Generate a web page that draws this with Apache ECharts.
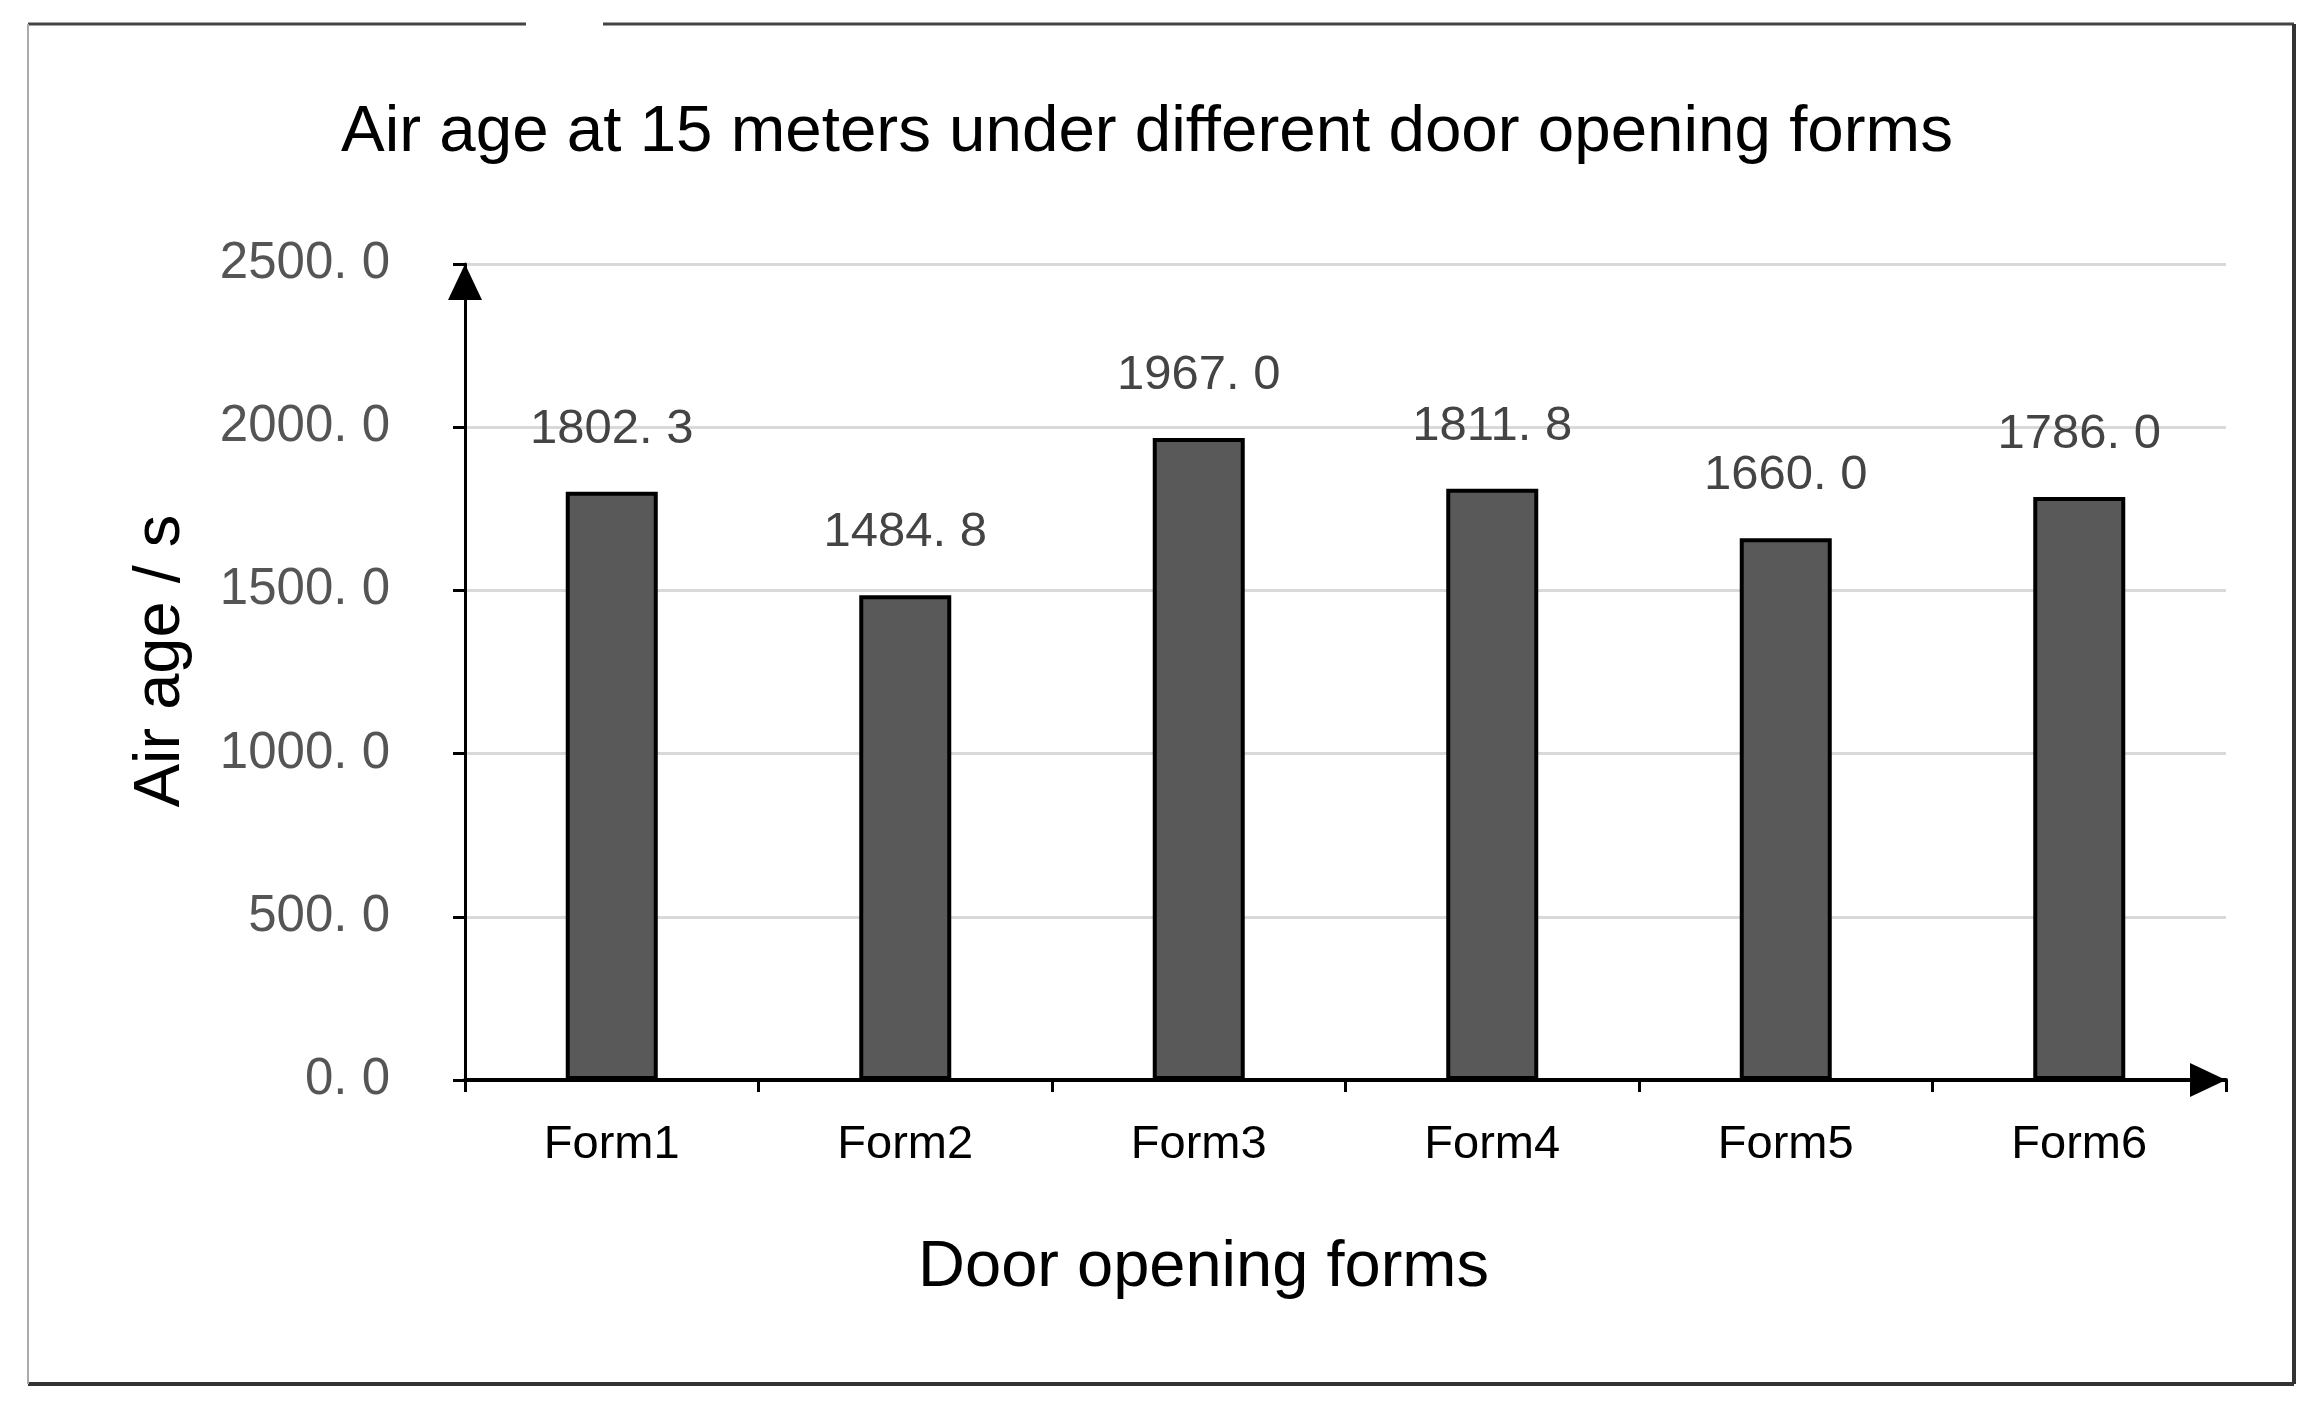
<!DOCTYPE html>
<html>
<head>
<meta charset="utf-8">
<script src="https://cdn.jsdelivr.net/npm/echarts@6/dist/echarts.min.js"></script>
<style>
  html, body { margin: 0; padding: 0; background: #fff; }
  #chart { width: 2324px; height: 1411px; }
</style>
</head>
<body>
<div id="chart"></div>
<script>
// data
const categories = ['Form1', 'Form2', 'Form3', 'Form4', 'Form5', 'Form6'];
const airAge = [1802.3, 1484.8, 1967.0, 1811.8, 1660.0, 1786.0];
const yTicks = { min: 0, max: 2500, interval: 500 };

// numbers in the source use a wide period, e.g. "2500. 0"
const fmt = (v) => Number(v).toFixed(1).replace('.', '. ');

const chart = echarts.init(document.getElementById('chart'), null, { renderer: 'canvas' });

chart.setOption({
  backgroundColor: '#fff',
  animation: false,
  title: {
    text: 'Air age at 15 meters under different door opening forms',
    left: 1142,
    textAlign: 'center',
    top: 95,
    textStyle: { fontFamily: 'Liberation Sans', fontSize: 65.5, fontWeight: 'normal', color: '#000' }
  },
  grid: { left: 465, right: 98, top: 264, bottom: 331 },
  xAxis: {
    type: 'category',
    data: categories,
    name: 'Door opening forms',
    nameLocation: 'middle',
    nameGap: 156,
    nameTextStyle: { fontFamily: 'Liberation Sans', fontSize: 65, color: '#000', padding: [0, 284, 0, 0] },
    axisLine: {
      lineStyle: { color: '#000', width: 4 },
      symbol: ['none', 'triangle'],
      symbolSize: [34, 36],
      symbolOffset: [0, -18]
    },
    axisTick: { show: true, alignWithLabel: false, length: 12, lineStyle: { color: '#000', width: 3 } },
    axisLabel: { margin: 42, fontFamily: 'Liberation Sans', fontSize: 47, color: '#000' },
    splitLine: { show: false }
  },
  yAxis: {
    type: 'value',
    min: yTicks.min,
    max: yTicks.max,
    interval: yTicks.interval,
    name: 'Air age / s',
    nameLocation: 'middle',
    nameGap: 271,
    nameRotate: 90,
    nameTextStyle: { fontFamily: 'Liberation Sans', fontSize: 65, color: '#000', padding: [0, 0, 0, 22] },
    axisLine: {
      show: true,
      lineStyle: { color: '#000', width: 3 },
      symbol: ['none', 'triangle'],
      symbolSize: [34, 36],
      symbolOffset: [0, -18]
    },
    axisTick: { show: true, inside: false, length: 12, lineStyle: { color: '#000', width: 3 } },
    axisLabel: {
      margin: 75,
      fontFamily: 'Liberation Sans',
      fontSize: 51,
      color: '#555',
      formatter: fmt
    },
    splitLine: { show: true, lineStyle: { color: '#d9d9d9', width: 3 } }
  },
  series: [
    {
      name: 'Air age',
      type: 'bar',
      data: airAge,
      barWidth: 92,
      itemStyle: { color: '#595959', borderColor: '#000', borderWidth: 4 },
      label: {
        show: true,
        position: 'top',
        distance: 38,
        fontFamily: 'Liberation Sans',
        fontSize: 49,
        color: '#444',
        formatter: (p) => fmt(p.value)
      }
    }
  ],
  // outer frame of the figure, with the small gap at the top
  graphic: [
    { type: 'line', shape: { x1: 28, y1: 24, x2: 526, y2: 24 }, style: { stroke: '#444', lineWidth: 3 } },
    { type: 'line', shape: { x1: 603, y1: 24, x2: 2294, y2: 24 }, style: { stroke: '#444', lineWidth: 3 } },
    { type: 'line', shape: { x1: 2294, y1: 24, x2: 2294, y2: 1384 }, style: { stroke: '#333', lineWidth: 4 } },
    { type: 'line', shape: { x1: 28, y1: 1384, x2: 2294, y2: 1384 }, style: { stroke: '#333', lineWidth: 4 } },
    { type: 'line', shape: { x1: 28, y1: 24, x2: 28, y2: 1384 }, style: { stroke: '#aaa', lineWidth: 2 } }
  ]
});

window.addEventListener('resize', () => chart.resize());
</script>
</body>
</html>
